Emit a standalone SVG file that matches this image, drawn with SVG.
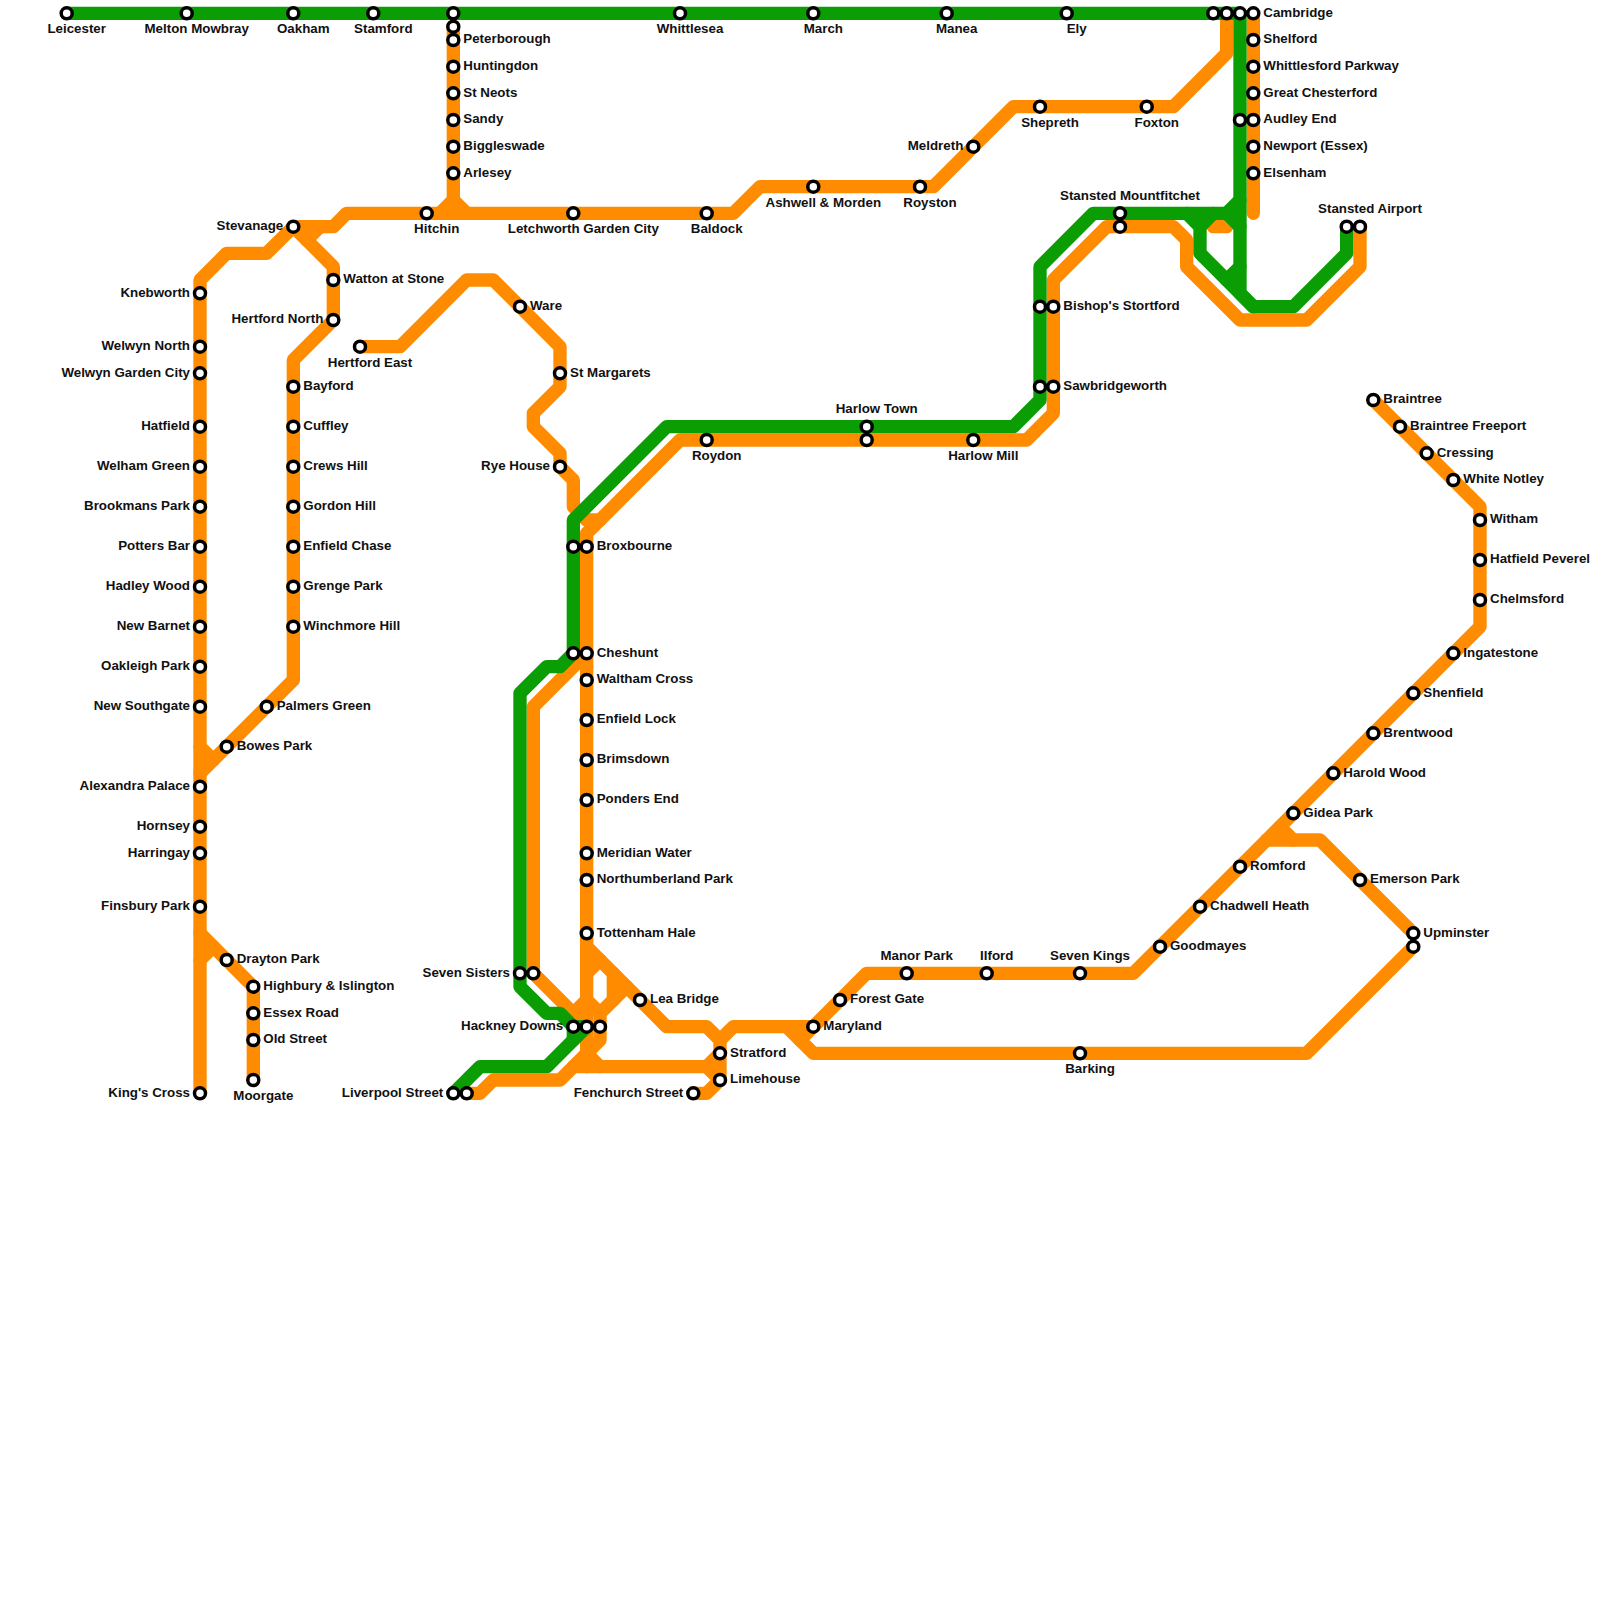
<svg xmlns="http://www.w3.org/2000/svg" width="1600" height="1600" viewBox="0 0 1600 1600">
<style>
.o,.g{fill:none;stroke-width:1;stroke-linecap:round;stroke-linejoin:round}
.o{stroke:#ff8c00}.g{stroke:#0a9e04}
circle{fill:#fff;stroke:#000;stroke-width:3.5}
text{font:bold 13.33px "Liberation Sans",Arial,sans-serif;fill:#111}
.l text{text-anchor:end}.c text{text-anchor:middle}
</style>
<defs><circle id="s" r="5.5"/></defs>
<rect width="1600" height="1600" fill="#fff"/>
<g id="connectors" transform="scale(13.33333)">
<polyline class="o" points="92,1 92,4 88,8 76,8 70,14 57,14 55,16 26,16 25,17 22,17 20,19 17,19 15,21 15,82"/>
<polyline class="o" points="22,17 25,20 25,24 22,27 22,51 15,58"/>
<polyline class="o" points="15,56 16,57"/>
<polyline class="o" points="15,72 16,71"/>
<polyline class="o" points="15,70 19,74 19,81"/>
<polyline class="o" points="23,18 24,17"/>
<polyline class="o" points="34,2 34,15"/>
<polyline class="o" points="33,16 34,15 35,16"/>
<polyline class="o" points="27,26 30,26 35,21 37,21 42,26 42,29 40,31 40,32 42,34 42,35 43,36 43,38 44,39"/>
<polyline class="o" points="94,1 94,16"/>
<polyline class="o" points="91,17 92,17"/>
<polyline class="o" points="102,17 102,20 98,24 93,24 89,20 89,18 88,17 83,17 79,21 79,31 77,33 51,33 45,39 44,40 44,80"/>
<polyline class="o" points="44,39 45,39"/>
<polyline class="o" points="44,49 40,53 40,73 44,77"/>
<polyline class="o" points="43,49 44,50"/>
<polyline class="o" points="44,71 50,77 53,77 54,78 54,81 53,82 52,82"/>
<polyline class="o" points="54,78 55,77 61,77 65,73 85,73 111,47 111,38 103,30"/>
<polyline class="o" points="59,77 61,79 98,79 106,71"/>
<polyline class="o" points="60,78 61,77"/>
<polyline class="o" points="96,62 97,63 99,63 106,70"/>
<polyline class="o" points="95,63 97,63"/>
<polyline class="o" points="44,73 45,72"/>
<polyline class="o" points="46,73 46,75"/>
<polyline class="o" points="43,76 44,75 45,76"/>
<polyline class="o" points="47,74 45,76 45,78 43,80 53,80 54,79"/>
<polyline class="o" points="53,80 54,81"/>
<polyline class="o" points="44,79 45,80"/>
<polyline class="o" points="35,82 36,82 37,81 42,81 43,80"/>
<polyline class="g" points="5,1 93,1 93,22 94,23 97,23 101,19 101,17"/>
<polyline class="g" points="92,16 93,15"/>
<polyline class="g" points="92,16 93,17"/>
<polyline class="g" points="89,16 90,17 90,19 94,23"/>
<polyline class="g" points="91,16 90,17"/>
<polyline class="g" points="92,21 93,20"/>
<polyline class="g" points="92,16 82,16 78,20 78,30 76,32 50,32 43,39 43,49 42,50 41,50 39,52 39,74 41,76 42,76 43,77 44,77 41,80 36,80 34,82"/>
<polyline class="g" points="43,77 43,78"/>
</g>
<g id="stations">
<g id="leicester" class="c" transform="translate(66.7 13.3)"><use href="#s"/><text x="10" y="20">Leicester</text></g>
<g id="melton-mowbray" class="c" transform="translate(186.7 13.3)"><use href="#s"/><text x="10" y="20">Melton Mowbray</text></g>
<g id="oakham" class="c" transform="translate(293.3 13.3)"><use href="#s"/><text x="10" y="20">Oakham</text></g>
<g id="stamford" class="c" transform="translate(373.3 13.3)"><use href="#s"/><text x="10" y="20">Stamford</text></g>
<g id="peterborough-g" transform="translate(453.3 13.3)"><use href="#s"/></g>
<g id="peterborough-m" transform="translate(453.3 26.7)"><use href="#s"/></g>
<g id="whittlesea" class="c" transform="translate(680 13.3)"><use href="#s"/><text x="10" y="20">Whittlesea</text></g>
<g id="march" class="c" transform="translate(813.3 13.3)"><use href="#s"/><text x="10" y="20">March</text></g>
<g id="manea" class="c" transform="translate(946.7 13.3)"><use href="#s"/><text x="10" y="20">Manea</text></g>
<g id="ely" class="c" transform="translate(1066.7 13.3)"><use href="#s"/><text x="10" y="20">Ely</text></g>
<g id="cam-a" transform="translate(1213.3 13.3)"><use href="#s"/></g>
<g id="cam-b" transform="translate(1226.7 13.3)"><use href="#s"/></g>
<g id="cam-c" transform="translate(1240 13.3)"><use href="#s"/></g>
<g id="cambridge" transform="translate(1253.3 13.3)"><use href="#s"/><text x="10" y="3.2">Cambridge</text></g>
<g id="shelford" transform="translate(1253.3 40)"><use href="#s"/><text x="10" y="3.2">Shelford</text></g>
<g id="whittlesford" transform="translate(1253.3 66.7)"><use href="#s"/><text x="10" y="3.2">Whittlesford Parkway</text></g>
<g id="great-chesterford" transform="translate(1253.3 93.3)"><use href="#s"/><text x="10" y="3.2">Great Chesterford</text></g>
<g id="audley-end-g" transform="translate(1240 120)"><use href="#s"/></g>
<g id="audley-end" transform="translate(1253.3 120)"><use href="#s"/><text x="10" y="3.2">Audley End</text></g>
<g id="newport" transform="translate(1253.3 146.7)"><use href="#s"/><text x="10" y="3.2">Newport (Essex)</text></g>
<g id="elsenham" transform="translate(1253.3 173.3)"><use href="#s"/><text x="10" y="3.2">Elsenham</text></g>
<g id="peterborough" transform="translate(453.3 40)"><use href="#s"/><text x="10" y="3.2">Peterborough</text></g>
<g id="huntingdon" transform="translate(453.3 66.7)"><use href="#s"/><text x="10" y="3.2">Huntingdon</text></g>
<g id="st-neots" transform="translate(453.3 93.3)"><use href="#s"/><text x="10" y="3.2">St Neots</text></g>
<g id="sandy" transform="translate(453.3 120)"><use href="#s"/><text x="10" y="3.2">Sandy</text></g>
<g id="biggleswade" transform="translate(453.3 146.7)"><use href="#s"/><text x="10" y="3.2">Biggleswade</text></g>
<g id="arlesey" transform="translate(453.3 173.3)"><use href="#s"/><text x="10" y="3.2">Arlesey</text></g>
<g id="shepreth" class="c" transform="translate(1040 106.7)"><use href="#s"/><text x="10" y="20">Shepreth</text></g>
<g id="foxton" class="c" transform="translate(1146.7 106.7)"><use href="#s"/><text x="10" y="20">Foxton</text></g>
<g id="meldreth" class="l" transform="translate(973.3 146.7)"><use href="#s"/><text x="-10" y="3.2">Meldreth</text></g>
<g id="royston" class="c" transform="translate(920 186.7)"><use href="#s"/><text x="10" y="20">Royston</text></g>
<g id="ashwell" class="c" transform="translate(813.3 186.7)"><use href="#s"/><text x="10" y="20">Ashwell &amp; Morden</text></g>
<g id="baldock" class="c" transform="translate(706.7 213.3)"><use href="#s"/><text x="10" y="20">Baldock</text></g>
<g id="letchworth" class="c" transform="translate(573.3 213.3)"><use href="#s"/><text x="10" y="20">Letchworth Garden City</text></g>
<g id="hitchin" class="c" transform="translate(426.7 213.3)"><use href="#s"/><text x="10" y="20">Hitchin</text></g>
<g id="stevenage" class="l" transform="translate(293.3 226.7)"><use href="#s"/><text x="-10" y="3.2">Stevanage</text></g>
<g id="knebworth" class="l" transform="translate(200 293.3)"><use href="#s"/><text x="-10" y="3.2">Knebworth</text></g>
<g id="welwyn-north" class="l" transform="translate(200 346.7)"><use href="#s"/><text x="-10" y="3.2">Welwyn North</text></g>
<g id="welwyn-gc" class="l" transform="translate(200 373.3)"><use href="#s"/><text x="-10" y="3.2">Welwyn Garden City</text></g>
<g id="hatfield" class="l" transform="translate(200 426.7)"><use href="#s"/><text x="-10" y="3.2">Hatfield</text></g>
<g id="welham-green" class="l" transform="translate(200 466.7)"><use href="#s"/><text x="-10" y="3.2">Welham Green</text></g>
<g id="brookmans-park" class="l" transform="translate(200 506.7)"><use href="#s"/><text x="-10" y="3.2">Brookmans Park</text></g>
<g id="potters-bar" class="l" transform="translate(200 546.7)"><use href="#s"/><text x="-10" y="3.2">Potters Bar</text></g>
<g id="hadley-wood" class="l" transform="translate(200 586.7)"><use href="#s"/><text x="-10" y="3.2">Hadley Wood</text></g>
<g id="new-barnet" class="l" transform="translate(200 626.7)"><use href="#s"/><text x="-10" y="3.2">New Barnet</text></g>
<g id="oakleigh-park" class="l" transform="translate(200 666.7)"><use href="#s"/><text x="-10" y="3.2">Oakleigh Park</text></g>
<g id="new-southgate" class="l" transform="translate(200 706.7)"><use href="#s"/><text x="-10" y="3.2">New Southgate</text></g>
<g id="alexandra-palace" class="l" transform="translate(200 786.7)"><use href="#s"/><text x="-10" y="3.2">Alexandra Palace</text></g>
<g id="hornsey" class="l" transform="translate(200 826.7)"><use href="#s"/><text x="-10" y="3.2">Hornsey</text></g>
<g id="harringay" class="l" transform="translate(200 853.3)"><use href="#s"/><text x="-10" y="3.2">Harringay</text></g>
<g id="finsbury-park" class="l" transform="translate(200 906.7)"><use href="#s"/><text x="-10" y="3.2">Finsbury Park</text></g>
<g id="kings-cross" class="l" transform="translate(200 1093.3)"><use href="#s"/><text x="-10" y="3.2">King's Cross</text></g>
<g id="bowes-park" transform="translate(226.7 746.7)"><use href="#s"/><text x="10" y="3.2">Bowes Park</text></g>
<g id="palmers-green" transform="translate(266.7 706.7)"><use href="#s"/><text x="10" y="3.2">Palmers Green</text></g>
<g id="winchmore-hill" transform="translate(293.3 626.7)"><use href="#s"/><text x="10" y="3.2">Winchmore Hill</text></g>
<g id="grenge-park" transform="translate(293.3 586.7)"><use href="#s"/><text x="10" y="3.2">Grenge Park</text></g>
<g id="enfield-chase" transform="translate(293.3 546.7)"><use href="#s"/><text x="10" y="3.2">Enfield Chase</text></g>
<g id="gordon-hill" transform="translate(293.3 506.7)"><use href="#s"/><text x="10" y="3.2">Gordon Hill</text></g>
<g id="crews-hill" transform="translate(293.3 466.7)"><use href="#s"/><text x="10" y="3.2">Crews Hill</text></g>
<g id="cuffley" transform="translate(293.3 426.7)"><use href="#s"/><text x="10" y="3.2">Cuffley</text></g>
<g id="bayford" transform="translate(293.3 386.7)"><use href="#s"/><text x="10" y="3.2">Bayford</text></g>
<g id="hertford-north" class="l" transform="translate(333.3 320)"><use href="#s"/><text x="-10" y="3.2">Hertford North</text></g>
<g id="watton" transform="translate(333.3 280)"><use href="#s"/><text x="10" y="3.2">Watton at Stone</text></g>
<g id="hertford-east" class="c" transform="translate(360 346.7)"><use href="#s"/><text x="10" y="20">Hertford East</text></g>
<g id="drayton-park" transform="translate(226.7 960)"><use href="#s"/><text x="10" y="3.2">Drayton Park</text></g>
<g id="highbury" transform="translate(253.3 986.7)"><use href="#s"/><text x="10" y="3.2">Highbury &amp; Islington</text></g>
<g id="essex-road" transform="translate(253.3 1013.3)"><use href="#s"/><text x="10" y="3.2">Essex Road</text></g>
<g id="old-street" transform="translate(253.3 1040)"><use href="#s"/><text x="10" y="3.2">Old Street</text></g>
<g id="moorgate" class="c" transform="translate(253.3 1080)"><use href="#s"/><text x="10" y="20">Moorgate</text></g>
<g id="ware" transform="translate(520 306.7)"><use href="#s"/><text x="10" y="3.2">Ware</text></g>
<g id="st-margarets" transform="translate(560 373.3)"><use href="#s"/><text x="10" y="3.2">St Margarets</text></g>
<g id="rye-house" class="l" transform="translate(560 466.7)"><use href="#s"/><text x="-10" y="3.2">Rye House</text></g>
<g id="broxbourne-g" transform="translate(573.3 546.7)"><use href="#s"/></g>
<g id="broxbourne" transform="translate(586.7 546.7)"><use href="#s"/><text x="10" y="3.2">Broxbourne</text></g>
<g id="cheshunt-g" transform="translate(573.3 653.3)"><use href="#s"/></g>
<g id="cheshunt" transform="translate(586.7 653.3)"><use href="#s"/><text x="10" y="3.2">Cheshunt</text></g>
<g id="waltham-cross" transform="translate(586.7 680)"><use href="#s"/><text x="10" y="3.2">Waltham Cross</text></g>
<g id="enfield-lock" transform="translate(586.7 720)"><use href="#s"/><text x="10" y="3.2">Enfield Lock</text></g>
<g id="brimsdown" transform="translate(586.7 760)"><use href="#s"/><text x="10" y="3.2">Brimsdown</text></g>
<g id="ponders-end" transform="translate(586.7 800)"><use href="#s"/><text x="10" y="3.2">Ponders End</text></g>
<g id="meridian-water" transform="translate(586.7 853.3)"><use href="#s"/><text x="10" y="3.2">Meridian Water</text></g>
<g id="northumberland-park" transform="translate(586.7 880)"><use href="#s"/><text x="10" y="3.2">Northumberland Park</text></g>
<g id="tottenham-hale" transform="translate(586.7 933.3)"><use href="#s"/><text x="10" y="3.2">Tottenham Hale</text></g>
<g id="seven-sisters" class="l" transform="translate(520 973.3)"><use href="#s"/><text x="-10" y="3.2">Seven Sisters</text></g>
<g id="seven-sisters-o" transform="translate(533.3 973.3)"><use href="#s"/></g>
<g id="hackney-downs" class="l" transform="translate(573.3 1026.7)"><use href="#s"/><text x="-10" y="3.2">Hackney Downs</text></g>
<g id="hackney-b" transform="translate(586.7 1026.7)"><use href="#s"/></g>
<g id="hackney-c" transform="translate(600 1026.7)"><use href="#s"/></g>
<g id="lea-bridge" transform="translate(640 1000)"><use href="#s"/><text x="10" y="3.2">Lea Bridge</text></g>
<g id="liverpool-street" class="l" transform="translate(453.3 1093.3)"><use href="#s"/><text x="-10" y="3.2">Liverpool Street</text></g>
<g id="liverpool-street-o" transform="translate(466.7 1093.3)"><use href="#s"/></g>
<g id="fenchurch-street" class="l" transform="translate(693.3 1093.3)"><use href="#s"/><text x="-10" y="3.2">Fenchurch Street</text></g>
<g id="stratford" transform="translate(720 1053.3)"><use href="#s"/><text x="10" y="3.2">Stratford</text></g>
<g id="limehouse" transform="translate(720 1080)"><use href="#s"/><text x="10" y="3.2">Limehouse</text></g>
<g id="maryland" transform="translate(813.3 1026.7)"><use href="#s"/><text x="10" y="3.2">Maryland</text></g>
<g id="forest-gate" transform="translate(840 1000)"><use href="#s"/><text x="10" y="3.2">Forest Gate</text></g>
<g id="manor-park" class="c" transform="translate(906.7 973.3)"><use href="#s"/><text x="10" y="-13.5">Manor Park</text></g>
<g id="ilford" class="c" transform="translate(986.7 973.3)"><use href="#s"/><text x="10" y="-13.5">Ilford</text></g>
<g id="seven-kings" class="c" transform="translate(1080 973.3)"><use href="#s"/><text x="10" y="-13.5">Seven Kings</text></g>
<g id="barking" class="c" transform="translate(1080 1053.3)"><use href="#s"/><text x="10" y="20">Barking</text></g>
<g id="goodmayes" transform="translate(1160 946.7)"><use href="#s"/><text x="10" y="3.2">Goodmayes</text></g>
<g id="chadwell-heath" transform="translate(1200 906.7)"><use href="#s"/><text x="10" y="3.2">Chadwell Heath</text></g>
<g id="romford" transform="translate(1240 866.7)"><use href="#s"/><text x="10" y="3.2">Romford</text></g>
<g id="gidea-park" transform="translate(1293.3 813.3)"><use href="#s"/><text x="10" y="3.2">Gidea Park</text></g>
<g id="harold-wood" transform="translate(1333.3 773.3)"><use href="#s"/><text x="10" y="3.2">Harold Wood</text></g>
<g id="brentwood" transform="translate(1373.3 733.3)"><use href="#s"/><text x="10" y="3.2">Brentwood</text></g>
<g id="shenfield" transform="translate(1413.3 693.3)"><use href="#s"/><text x="10" y="3.2">Shenfield</text></g>
<g id="ingatestone" transform="translate(1453.3 653.3)"><use href="#s"/><text x="10" y="3.2">Ingatestone</text></g>
<g id="chelmsford" transform="translate(1480 600)"><use href="#s"/><text x="10" y="3.2">Chelmsford</text></g>
<g id="hatfield-peverel" transform="translate(1480 560)"><use href="#s"/><text x="10" y="3.2">Hatfield Peverel</text></g>
<g id="witham" transform="translate(1480 520)"><use href="#s"/><text x="10" y="3.2">Witham</text></g>
<g id="white-notley" transform="translate(1453.3 480)"><use href="#s"/><text x="10" y="3.2">White Notley</text></g>
<g id="cressing" transform="translate(1426.7 453.3)"><use href="#s"/><text x="10" y="3.2">Cressing</text></g>
<g id="braintree-freeport" transform="translate(1400 426.7)"><use href="#s"/><text x="10" y="3.2">Braintree Freeport</text></g>
<g id="braintree" transform="translate(1373.3 400)"><use href="#s"/><text x="10" y="3.2">Braintree</text></g>
<g id="emerson-park" transform="translate(1360 880)"><use href="#s"/><text x="10" y="3.2">Emerson Park</text></g>
<g id="upminster-b" transform="translate(1413.3 946.7)"><use href="#s"/></g>
<g id="upminster" transform="translate(1413.3 933.3)"><use href="#s"/><text x="10" y="3.2">Upminster</text></g>
<g id="roydon" class="c" transform="translate(706.7 440)"><use href="#s"/><text x="10" y="20">Roydon</text></g>
<g id="harlow-town" class="c" transform="translate(866.7 426.7)"><use href="#s"/><text x="10" y="-13.5">Harlow Town</text></g>
<g id="harlow-town-o" transform="translate(866.7 440)"><use href="#s"/></g>
<g id="harlow-mill" class="c" transform="translate(973.3 440)"><use href="#s"/><text x="10" y="20">Harlow Mill</text></g>
<g id="sawbridgeworth-g" transform="translate(1040 386.7)"><use href="#s"/></g>
<g id="sawbridgeworth" transform="translate(1053.3 386.7)"><use href="#s"/><text x="10" y="3.2">Sawbridgeworth</text></g>
<g id="bishops-stortford-g" transform="translate(1040 306.7)"><use href="#s"/></g>
<g id="bishops-stortford" transform="translate(1053.3 306.7)"><use href="#s"/><text x="10" y="3.2">Bishop's Stortford</text></g>
<g id="stansted-mountfitchet" class="c" transform="translate(1120 213.3)"><use href="#s"/><text x="10" y="-13.5">Stansted Mountfitchet</text></g>
<g id="stansted-mountfitchet-o" transform="translate(1120 226.7)"><use href="#s"/></g>
<g id="stansted-airport-g" transform="translate(1346.7 226.7)"><use href="#s"/></g>
<g id="stansted-airport" class="c" transform="translate(1360 226.7)"><use href="#s"/><text x="10" y="-13.5">Stansted Airport</text></g>
</g>
</svg>
